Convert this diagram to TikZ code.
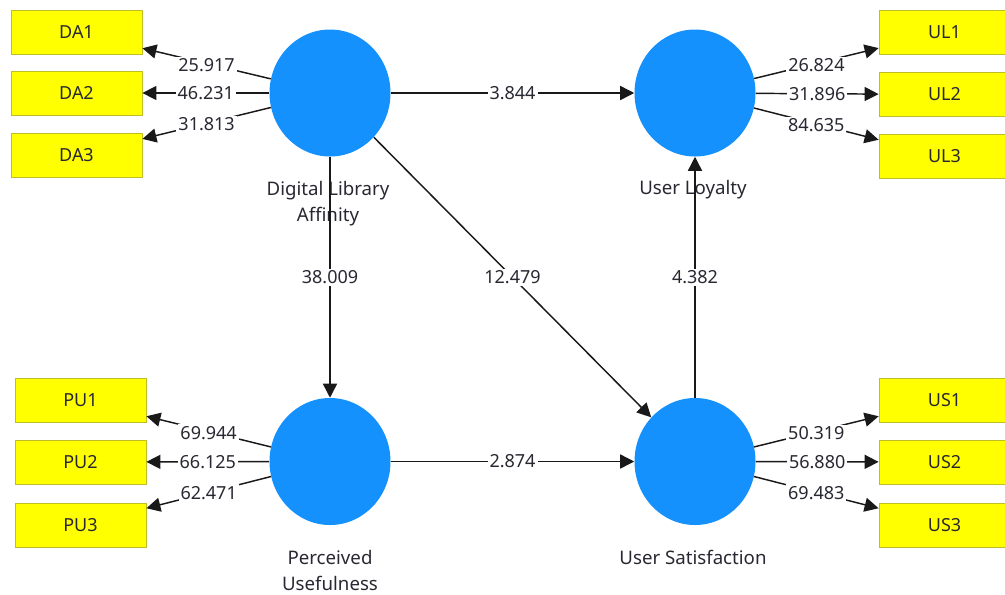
\documentclass[tikz,border=0pt]{standalone}
\usepackage{fontspec}
\setmainfont{Noto Sans}
\usetikzlibrary{arrows.meta,shapes.geometric}
\definecolor{lv}{RGB}{20,145,253}
\definecolor{mv}{RGB}{255,255,0}
\definecolor{mvb}{RGB}{190,190,40}
\definecolor{txt}{RGB}{40,40,50}
\begin{document}
\begin{tikzpicture}[x=0.75pt,y=-0.75pt,
 lat/.style={ellipse,fill=lv,minimum width=90.75pt,minimum height=95.25pt,inner sep=0pt},
 ind/.style={rectangle,fill=mv,draw=mvb,line width=0.6pt,minimum width=98.25pt,minimum height=33pt,inner sep=0pt,font=\fontsize{13.5}{16}\selectfont,text=txt},
 arr/.style={-{Triangle[length=10.5pt,width=10.5pt]},line width=1.1pt,black!90},
 val/.style={fill=white,inner sep=1.5pt,text=txt,font=\fontsize{13.5}{16}\selectfont},
 lname/.style={text=txt,font=\fontsize{14}{19.5}\selectfont,align=center}]
\useasboundingbox (0,0) rectangle (1005,594);

% latent variables
\node[lat] (DA) at (330,93) {};
\node[lat] (UL) at (695,93) {};
\node[lat] (PU) at (330,461.5) {};
\node[lat] (US) at (695,461.5) {};

% names
\node[lname] (DAn) at (328,203.5) {Digital Library\\Affinity};
\node[lname] (ULn) at (693,190) {User Loyalty};
\node[lname] (PUn) at (330,570) {Perceived\\Usefulness};
\node[lname] (USn) at (693,557) {User Satisfaction};

% indicators
\node[ind] (DA1) at (76.5,32.5) {DA1};
\node[ind] (DA2) at (76.5,93) {DA2};
\node[ind] (DA3) at (76.5,155) {DA3};
\node[ind] (PU1) at (80.5,400) {PU1};
\node[ind] (PU2) at (80.5,462) {PU2};
\node[ind] (PU3) at (80.5,525) {PU3};
\node[ind] (UL1) at (944.5,32) {UL1};
\node[ind] (UL2) at (944.5,94.5) {UL2};
\node[ind] (UL3) at (944.5,156.5) {UL3};
\node[ind] (US1) at (944.5,400) {US1};
\node[ind] (US2) at (944.5,462) {US2};
\node[ind] (US3) at (944.5,525) {US3};

% outer loadings
\draw[arr] (DA) -- node[val,yshift=-1.5pt]{25.917} (DA1);
\draw[arr] (DA) -- node[val]{46.231} (DA2);
\draw[arr] (DA) -- node[val,yshift=-1pt]{31.813} (DA3);
\draw[arr] (PU) -- node[val,yshift=-1pt]{69.944} (PU1);
\draw[arr] (PU) -- node[val]{66.125} (PU2);
\draw[arr] (PU) -- node[val,yshift=-0.5pt]{62.471} (PU3);
\draw[arr] (UL) -- node[val,yshift=-1.5pt]{26.824} (UL1);
\draw[arr] (UL) -- node[val]{31.896} (UL2);
\draw[arr] (UL) -- node[val,yshift=-1pt]{84.635} (UL3);
\draw[arr] (US) -- node[val,yshift=-1.5pt]{50.319} (US1);
\draw[arr] (US) -- node[val]{56.880} (US2);
\draw[arr] (US) -- node[val,yshift=-0.5pt]{69.483} (US3);

% structural paths
\draw[arr] (DA) -- node[val]{3.844} (UL);
\draw[arr] (DA) -- node[val]{38.009} (PU);
\draw[arr] (DA) -- node[val]{12.479} (US);
\draw[arr] (PU) -- node[val]{2.874} (US);
\draw[arr] (US) -- node[val]{4.382} (UL);
\end{tikzpicture}
\end{document}
